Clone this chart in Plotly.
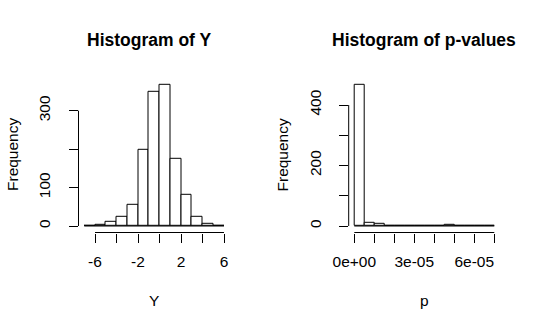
import plotly.graph_objects as go

# ---- data ----
y_breaks = [-7, -6, -5, -4, -3, -2, -1, 0, 1, 2, 3, 4, 5, 6]
y_counts = [1, 2, 10, 23, 56, 198, 348, 368, 176, 82, 23, 5, 1]
p_breaks = [i * 5e-6 for i in range(15)]
p_counts = [468, 9, 6, 2, 2, 2, 2, 0, 0, 3, 0, 0, 0, 0]

y_xticks = [-6, -4, -2, 0, 2, 4, 6]
y_xticktext = ["-6", "", "-2", "", "2", "", "6"]
y_yticks = [0, 100, 200, 300]
y_yticktext = ["0", "100", "", "300"]
p_xticks = [0, 1e-05, 2e-05, 3e-05, 4e-05, 5e-05, 6e-05, 7e-05]
p_xticktext = ["0e+00", "", "", "3e-05", "", "", "6e-05", ""]
p_yticks = [0, 100, 200, 300, 400]
p_yticktext = ["0", "", "200", "", "400"]

W, H = 540, 330
FONT = "Liberation Sans, Arial, sans-serif"


def px_x(v):
    return v / W


def px_y(v):
    return 1 - v / H


fig = go.Figure()


def add_hist(breaks, counts, xa, ya):
    centers = [(breaks[i] + breaks[i + 1]) / 2 for i in range(len(counts))]
    widths = [breaks[i + 1] - breaks[i] for i in range(len(counts))]
    fig.add_trace(go.Bar(
        x=centers, y=counts, width=widths, xaxis=xa, yaxis=ya,
        marker=dict(color="white", line=dict(color="black", width=1)),
        showlegend=False, hoverinfo="x+y",
    ))


add_hist(y_breaks, y_counts, "x", "y")
add_hist(p_breaks, p_counts, "x2", "y2")

ydom = [px_y(232.5), px_y(79.8)]
common_tick = dict(ticks="outside", ticklen=9, tickwidth=1, tickcolor="black",
                   showgrid=False, zeroline=False, showline=False, automargin=False,
                   tickfont=dict(family=FONT, size=15.5, color="black"))
XSO, YSO = 6, 12

fig.update_layout(
    width=W, height=H, margin=dict(l=0, r=0, t=0, b=0, autoexpand=False),
    plot_bgcolor="white", paper_bgcolor="white", bargap=0,
    xaxis=dict(domain=[px_x(78.5), px_x(229.6)], range=[-7.535, 6.521],
               tickmode="array", tickvals=y_xticks, ticktext=y_xticktext,
               anchor="y", ticklabelstandoff=XSO, **common_tick),
    yaxis=dict(domain=ydom, range=[-16.9, 380.4], tickmode="array",
               tickvals=y_yticks, ticktext=y_yticktext, tickangle=-90,
               anchor="x", ticklabelstandoff=YSO, **common_tick),
    xaxis2=dict(domain=[px_x(348.7), px_x(499.9)], range=[-2.8e-6, 7.28e-5],
                tickmode="array", tickvals=p_xticks, ticktext=p_xticktext,
                anchor="y2", ticklabelstandoff=XSO, **common_tick),
    yaxis2=dict(domain=ydom, range=[-21.5, 483.3], tickmode="array",
                tickvals=p_yticks, ticktext=p_yticktext, tickangle=-90,
                anchor="x2", ticklabelstandoff=YSO, **common_tick),
)

line = dict(color="black", width=1)
# R-style axis lines spanning first to last tick
for xr, yr, xt, yt in [("x", "y", y_xticks, y_yticks), ("x2", "y2", p_xticks, p_yticks)]:
    fig.add_shape(type="line", xref=xr, yref=yr + " domain", x0=min(xt), x1=max(xt),
                  y0=0, y1=0, line=line)
    fig.add_shape(type="line", xref=xr + " domain", yref=yr, x0=0, x1=0,
                  y0=min(yt), y1=max(yt), line=line)
# baselines of zero-height rectangles
for xr, yr, br in [("x", "y", y_breaks), ("x2", "y2", p_breaks)]:
    fig.add_shape(type="line", xref=xr, yref=yr, x0=br[0], x1=br[-1], y0=0, y1=0, line=line)

title_font = dict(family=FONT, size=17.5, color="black", weight="bold")
lab_font = dict(family=FONT, size=15.5, color="black")
ann = [
    dict(text="<b>Histogram of Y</b>", x=px_x(149), y=px_y(40), font=title_font),
    dict(text="<b>Histogram of p-values</b>", x=px_x(423.5), y=px_y(40), font=title_font),
    dict(text="Y", x=px_x(154), y=px_y(300), font=lab_font),
    dict(text="p", x=px_x(424), y=px_y(300), font=lab_font),
    dict(text="Frequency", x=px_x(12), y=px_y(155), font=lab_font, textangle=-90),
    dict(text="Frequency", x=px_x(281.5), y=px_y(155), font=lab_font, textangle=-90),
]
for a in ann:
    fig.add_annotation(xref="paper", yref="paper", xanchor="center", yanchor="middle",
                       showarrow=False, **a)

fig.write_html("out.html")
